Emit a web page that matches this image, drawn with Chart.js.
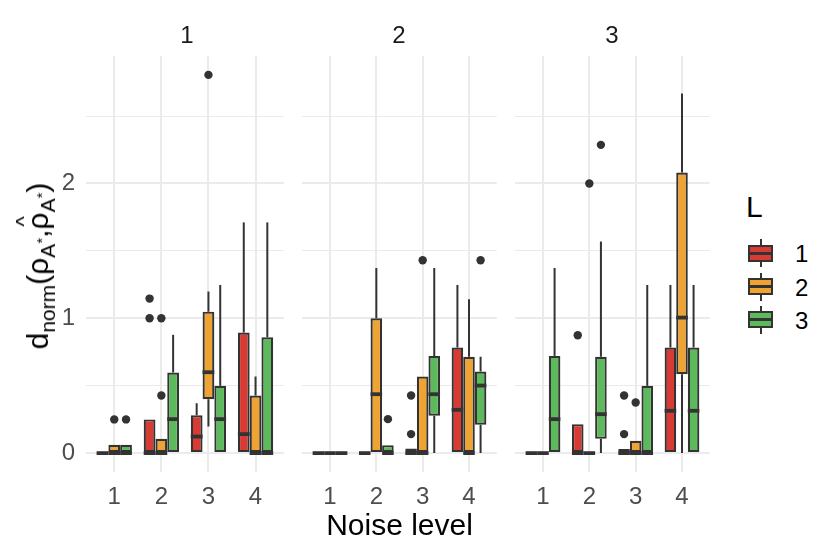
<!DOCTYPE html>
<html>
<head>
<meta charset="utf-8">
<script src="https://cdn.jsdelivr.net/npm/chart.js@4.4.1/dist/chart.umd.min.js"></script>
<style>
  body { margin: 0; background: #ffffff; }
  #wrap { position: relative; width: 830px; height: 554px; background: #ffffff; overflow: hidden;
          font-family: "Liberation Sans", Arial, Helvetica, sans-serif; }
  canvas { position: absolute; }
  .strip { position: absolute; top: 23px; width: 202px; text-align: center; font-size: 24px; line-height: 24px; color: #1a1a1a; }
  .xtitle { position: absolute; left: 86px; width: 627px; top: 510px; text-align: center; font-size: 30px; line-height: 30px; color: #000; }
  .ytitle { position: absolute; left: 38px; top: 266px; transform: translate(-50%, -50%) rotate(-90deg);
            white-space: nowrap; font-size: 30px; line-height: 30px; color: #000; }
  .ytitle sub { font-size: 21px; vertical-align: -7px; line-height: 0; }
  .ytitle sub sup { font-size: 15px; vertical-align: 8px; }
  .hat { position: relative; display: inline-block; }
  .hat .h { position: absolute; left: 3px; top: -14px; font-size: 22px; }
  .ltitle { position: absolute; left: 746px; top: 192px; font-size: 30px; line-height: 30px; color: #000; }
  .lkey { position: absolute; left: 748px; width: 25px; height: 28px; }
  .lkey .wh { position: absolute; left: 11.5px; top: 0; width: 2px; height: 28px; background: #333333; }
  .lkey .bx { position: absolute; left: 0; top: 5.5px; width: 25px; height: 17px; box-sizing: border-box; border: 2px solid #333333; }
  .lkey .md { position: absolute; left: 0; right: 0; top: 5px; height: 3px; background: #333333; }
  .llab { position: absolute; left: 795px; font-size: 24px; line-height: 24px; color: #000; }
</style>
</head>
<body>
<div id="wrap">
  <canvas id="c0" width="242" height="476" style="left:46px;top:40px"></canvas>
  <canvas id="c1" width="203" height="476" style="left:298px;top:40px"></canvas>
  <canvas id="c2" width="203" height="476" style="left:511px;top:40px"></canvas>
  <div class="strip" style="left:86px">1</div>
  <div class="strip" style="left:298px">2</div>
  <div class="strip" style="left:511px">3</div>
  <div class="xtitle">Noise level</div>
  <div class="ytitle">d<sub>norm</sub>(ρ<sub>A<sup>*</sup></sub>,<span class="hat">ρ<span class="h">^</span></span><sub>A<sup>*</sup></sub>)</div>
  <div id="legend"></div>
</div>
<script>
// ---- data ----
const facets = ['1', '2', '3'];
const noiseLevels = [1, 2, 3, 4];
const groupsL = ['1', '2', '3'];
const groupColors = ['#D73B34', '#EFA332', '#5CB95C'];
const yTicks = [0, 0.5, 1, 1.5, 2, 2.5];
const yRange = [-0.14, 2.945];

// indexed [facet][noise level][L]
const whiskerLow = [
  [[0, 0, 0], [0, 0, 0], [0, 0.198, 0], [0, 0, 0]],
  [[0, 0, 0], [0, 0, 0], [0, 0, 0], [0, 0, 0]],
  [[0, 0, 0], [0, 0, 0], [0, 0, 0], [0, 0, 0]]
];
const boxLow = [
  [[0, 0, 0], [0, 0, 0], [0, 0.40, 0], [0, 0, 0]],
  [[0, 0, 0], [0, 0, 0], [0, 0, 0.277], [0, 0, 0.21]],
  [[0, 0, 0], [0, 0, 0.106], [0, 0, 0], [0, 0.585, 0]]
];
const medians = [
  [[0, 0, 0], [0, 0, 0.252], [0.123, 0.60, 0.252], [0.141, 0, 0]],
  [[0, 0, 0], [0, 0.437, 0], [0, 0, 0.437], [0.321, 0, 0.501]],
  [[0, 0, 0.252], [0, 0, 0.289], [0, 0, 0], [0.314, 1.005, 0.314]]
];
const boxHigh = [
  [[0, 0.062, 0.062], [0.25, 0.106, 0.598], [0.281, 1.049, 0.499], [0.894, 0.427, 0.859]],
  [[0, 0, 0], [0, 1.0, 0.059], [0.035, 0.568, 0.721], [0.783, 0.714, 0.605]],
  [[0, 0, 0.721], [0.215, 0, 0.714], [0.03, 0.091, 0.499], [0.783, 2.081, 0.783]]
];
const whiskerHigh = [
  [[0, 0.062, 0.062], [0.25, 0.106, 0.877], [0.370, 1.198, 1.247], [1.711, 0.568, 1.711]],
  [[0, 0, 0], [0, 1.373, 0.059], [0.035, 0.568, 1.373], [1.247, 1.141, 0.714]],
  [[0, 0, 1.373], [0.215, 0, 1.570], [0.03, 0.091, 1.247], [1.247, 2.667, 1.247]]
];
const outliers = [
  [[[], [0.25], [0.25]], [[1.0, 1.146], [0.427, 1.0], []], [[], [2.805], []], [[], [], []]],
  [[[], [], []], [[], [], [0.252]], [[0.141, 0.427], [1.43], []], [[], [], [1.43]]],
  [[[], [], []], [[0.874], [2.0], [2.286]], [[0.141, 0.427], [0.375], []], [[], [], []]]
];

// ---- rendering ----
const FONT = '"Liberation Sans", Arial, Helvetica, sans-serif';
const DODGE = 0.75;

const boxExtras = {
  id: 'boxExtras',
  beforeDatasetsDraw(chart) {
    const f = chart.options.plugins.boxExtras.facet;
    const ys = chart.scales.y, ctx = chart.ctx;
    ctx.save();
    ctx.strokeStyle = '#333333';
    ctx.lineWidth = 2;
    groupsL.forEach((g, li) => {
      chart.getDatasetMeta(li).data.forEach((bar, ni) => {
        const lo = whiskerLow[f][ni][li], q1 = boxLow[f][ni][li];
        const q3 = boxHigh[f][ni][li], hi = whiskerHigh[f][ni][li];
        ctx.beginPath();
        if (hi > q3) { ctx.moveTo(bar.x, ys.getPixelForValue(q3)); ctx.lineTo(bar.x, ys.getPixelForValue(hi)); }
        if (lo < q1) { ctx.moveTo(bar.x, ys.getPixelForValue(q1)); ctx.lineTo(bar.x, ys.getPixelForValue(lo)); }
        ctx.stroke();
      });
    });
    ctx.restore();
  },
  afterDatasetsDraw(chart) {
    const f = chart.options.plugins.boxExtras.facet;
    const ys = chart.scales.y, ctx = chart.ctx;
    ctx.save();
    ctx.strokeStyle = '#333333';
    ctx.lineWidth = 3.8;
    ctx.lineCap = 'butt';
    groupsL.forEach((g, li) => {
      chart.getDatasetMeta(li).data.forEach((bar, ni) => {
        const ym = ys.getPixelForValue(medians[f][ni][li]);
        ctx.beginPath();
        ctx.moveTo(bar.x - bar.width / 2, ym);
        ctx.lineTo(bar.x + bar.width / 2, ym);
        ctx.stroke();
      });
    });
    ctx.restore();
  }
};

function makeChart(f) {
  const showY = f === 0;
  const datasets = groupsL.map((g, li) => ({
    type: 'bar',
    label: g,
    data: noiseLevels.map((n, ni) => ({ x: n, y: [boxLow[f][ni][li], boxHigh[f][ni][li]] })),
    backgroundColor: groupColors[li],
    borderColor: '#333333',
    borderWidth: 2.2,
    borderSkipped: false,
    categoryPercentage: DODGE,
    barPercentage: 1,
    order: 2
  }));
  const pts = [];
  noiseLevels.forEach((n, ni) => groupsL.forEach((g, li) => {
    outliers[f][ni][li].forEach(v => pts.push({ x: n + (li - (groupsL.length - 1) / 2) * DODGE / groupsL.length, y: v }));
  }));
  datasets.push({
    type: 'scatter', label: 'outliers', data: pts,
    pointRadius: 4.2, pointBackgroundColor: '#333333', pointBorderWidth: 0, order: 1
  });
  return new Chart(document.getElementById('c' + f), {
    type: 'bar',
    data: { datasets },
    plugins: [boxExtras],
    options: {
      responsive: false,
      animation: false,
      events: [],
      layout: { padding: { top: 16, left: 0, right: 0, bottom: 0 } },
      plugins: { legend: { display: false }, tooltip: { enabled: false }, boxExtras: { facet: f } },
      scales: {
        x: {
          type: 'linear', min: 0.4, max: 4.6, offset: false,
          afterBuildTicks: s => { s.ticks = noiseLevels.map(v => ({ value: v })); },
          afterFit: s => { s.height = 44; s.paddingLeft = 0; s.paddingRight = 0; },
          grid: { color: '#EBEBEB', lineWidth: 2, drawTicks: false, offset: false },
          border: { display: false },
          ticks: { color: '#4D4D4D', font: { family: FONT, size: 24 }, padding: 11, maxRotation: 0, autoSkip: false,
                   callback: v => String(v) }
        },
        y: {
          type: 'linear', min: yRange[0], max: yRange[1],
          afterBuildTicks: s => { s.ticks = yTicks.map(v => ({ value: v })); },
          afterFit: s => { s.width = showY ? 40 : 0; s.paddingTop = 0; s.paddingBottom = 0; },
          grid: { color: '#EBEBEB', lineWidth: c => (c.tick && Number.isInteger(c.tick.value)) ? 2 : 1, drawTicks: false },
          border: { display: false },
          ticks: { display: showY, color: '#4D4D4D', font: { family: FONT, size: 24 }, padding: 11,
                   callback: v => Number.isInteger(v) ? String(v) : '' }
        }
      }
    }
  });
}
facets.forEach((name, f) => makeChart(f));

// legend
const legend = document.getElementById('legend');
const keyCentres = [253.3, 286.5, 319.7];
legend.innerHTML = '<div class="ltitle">L</div>' + groupsL.map((g, li) =>
  `<div class="lkey" style="top:${keyCentres[li] - 14}px"><div class="wh"></div>` +
  `<div class="bx" style="background:${groupColors[li]}"><div class="md"></div></div></div>` +
  `<div class="llab" style="top:${keyCentres[li] - 11}px">${g}</div>`).join('');
</script>
</body>
</html>
